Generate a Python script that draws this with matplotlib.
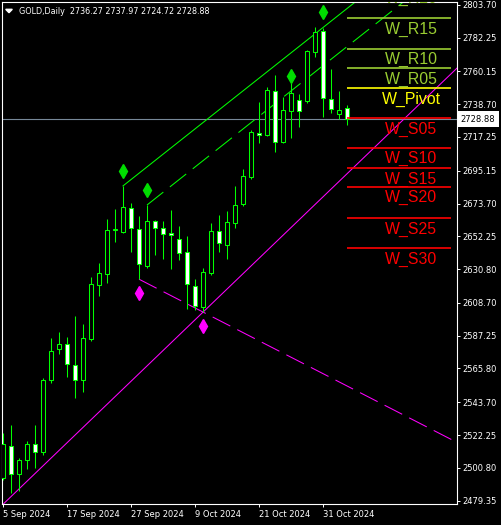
import matplotlib.pyplot as plt
from matplotlib.patches import Polygon
from matplotlib.transforms import blended_transform_factory

# Velas diarias de GOLD, barra 0 = 5 Sep 2024
aperturas = [2494.4, 2515.3, 2496.6, 2505.8, 2516.2, 2511.0, 2558.1, 2578.4, 2581.6, 2567.9,
             2558.1, 2584.9, 2620.2, 2627.4, 2656.6, 2655.3, 2670.6, 2656.9, 2633.0, 2662.3,
             2657.5, 2654.2, 2650.3, 2641.8, 2619.8, 2606.2, 2628.5, 2655.5, 2646.8, 2661.2,
             2673.6, 2691.3, 2719.6, 2718.7, 2747.3, 2714.1, 2734.4, 2741.4, 2741.0, 2773.0,
             2786.7, 2741.9, 2732.1, 2736.27]
maximos = [2523.4, 2528.9, 2507.1, 2518.4, 2528.9, 2559.6, 2585.8, 2589.7, 2586.2, 2600.1,
           2594.9, 2625.5, 2634.6, 2663.4, 2670.1, 2685.2, 2674.0, 2665.6, 2672.7, 2662.9,
           2662.3, 2669.5, 2659.0, 2652.5, 2624.3, 2631.7, 2661.2, 2666.2, 2668.8, 2685.2,
           2696.3, 2721.8, 2740.3, 2750.1, 2757.8, 2743.6, 2752.7, 2745.3, 2774.1, 2789.0,
           2788.5, 2761.7, 2747.3, 2737.97]
minimos = [2492.9, 2484.6, 2485.7, 2499.9, 2500.5, 2509.5, 2556.1, 2575.1, 2560.4, 2546.7,
           2550.6, 2584.0, 2613.4, 2621.9, 2648.7, 2654.2, 2642.2, 2624.3, 2631.7, 2640.0,
           2637.4, 2630.9, 2636.8, 2604.5, 2604.1, 2603.0, 2627.0, 2642.2, 2637.6, 2657.9,
           2672.3, 2690.0, 2713.5, 2717.9, 2707.6, 2713.0, 2716.4, 2724.0, 2739.3, 2769.7,
           2730.5, 2732.7, 2729.0, 2724.72]
cierres = [2516.2, 2496.6, 2505.8, 2516.2, 2511.0, 2558.1, 2577.1, 2581.6, 2568.6, 2558.1,
           2585.6, 2620.9, 2628.1, 2656.4, 2657.2, 2671.2, 2657.5, 2634.0, 2662.3, 2657.5,
           2653.6, 2652.9, 2641.5, 2620.9, 2606.9, 2628.7, 2655.9, 2647.7, 2661.4, 2672.5,
           2691.9, 2720.3, 2718.3, 2747.9, 2714.1, 2734.9, 2745.8, 2734.4, 2773.5, 2786.1,
           2742.5, 2735.3, 2734.7, 2728.88]

fechas_ticks = [0, 8, 16, 24, 32, 40]
fechas_labels = ['5 Sep 2024', '17 Sep 2024', '27 Sep 2024', '9 Oct 2024', '21 Oct 2024', '31 Oct 2024']

precios_ticks = [2479.35, 2500.80, 2522.25, 2543.70, 2565.80, 2587.25, 2608.70, 2630.80,
                 2652.25, 2673.70, 2695.15, 2717.25, 2738.70, 2760.15, 2782.25, 2803.70]

# Niveles semanales (pivot y soportes/resistencias)
niveles_nombres = ['W_R20', 'W_R15', 'W_R10', 'W_R05', 'W_Pivot', 'W_S05',
                   'W_S10', 'W_S15', 'W_S20', 'W_S25', 'W_S30']
niveles_precios = [2814.5, 2794.8, 2774.6, 2762.1, 2749.0, 2729.4,
                   2709.8, 2696.7, 2684.3, 2664.0, 2644.4]
niveles_colores = ['#9ACD32'] * 4 + ['#FFFF00'] + ['#FF0000'] * 6

# Lineas de tendencia: [barra inicial, precio inicial, barra final, precio final]
canal_sup = [15, 2685.2, 57, 2859.2]
canal_med = [18, 2672.7, 57, 2834.3]
linea_subida = [0, 2477.0, 57, 2763.5]
linea_bajada = [17, 2624.2, 57, 2516.8]

# Marcas (rombos)
diam_verdes_x = [15, 18, 36, 40]
diam_verdes_y = [2695.0, 2682.6, 2757.1, 2798.7]
diam_magenta_x = [17, 25]
diam_magenta_y = [2615.0, 2593.6]

ultimo = 2728.88
cabecera = 'GOLD,Daily  2736.27 2737.97 2724.72 2728.88'

W, H = 502, 525
fig = plt.figure(figsize=(W / 100, H / 100), dpi=100, facecolor='black')
ax = fig.add_axes([2 / W, 21 / H, 455 / W, 502 / H], facecolor='black')

verde = '#00FF00'
x = list(range(len(cierres)))

# linea del precio actual
ax.axhline(ultimo, color='#778899', lw=0.8, zorder=1)

# mechas y cuerpos
ax.vlines(x, minimos, maximos, color=verde, lw=0.75, zorder=3)
base = [min(o, c) for o, c in zip(aperturas, cierres)]
alto = [max(abs(c - o), 0.4) for o, c in zip(aperturas, cierres)]
colores = ['black' if c >= o else 'white' for o, c in zip(aperturas, cierres)]
ax.bar(x, alto, width=0.5, bottom=base, color=colores, edgecolor=verde, linewidth=0.75, zorder=4)

# canal verde
ax.plot([canal_sup[0], canal_sup[2]], [canal_sup[1], canal_sup[3]], color=verde, lw=0.75, zorder=2)
ax.plot([canal_med[0], canal_med[2]], [canal_med[1], canal_med[3]], color=verde, lw=0.75,
        ls=(0, (20, 8)), zorder=2)

# lineas magenta
ax.plot([linea_subida[0], linea_subida[2]], [linea_subida[1], linea_subida[3]],
        color='#FF00FF', lw=0.75, zorder=2)
ax.plot([linea_bajada[0], linea_bajada[2]], [linea_bajada[1], linea_bajada[3]],
        color='#FF00FF', lw=0.75, ls=(0, (19, 7.5)), zorder=2)

# rombos
ax.plot(diam_verdes_x, diam_verdes_y, 'd', color='#00DD00', markersize=7.5, ls='none', zorder=6)
ax.plot(diam_magenta_x, diam_magenta_y, 'd', color='#FF00FF', markersize=7.5, ls='none', zorder=6)

# niveles a la derecha
ax.hlines(niveles_precios, 43, 56, colors=niveles_colores, lw=1.2, zorder=5)
for nombre, precio, col in zip(niveles_nombres, niveles_precios, niveles_colores):
    ax.text(51, precio - 2.0, nombre, color=col, fontsize=11.4, family='Liberation Sans',
            ha='center', va='top', zorder=6, clip_on=True)

ax.set_xlim(-0.125, 56.75)
ax.set_ylim(2477.19, 2805.47)

for s in ax.spines.values():
    s.set_color('white')
    s.set_linewidth(0.8)

ax.yaxis.tick_right()
ax.set_yticks(precios_ticks)
ax.set_yticklabels(['%.2f' % p for p in precios_ticks])
ax.set_xticks(fechas_ticks)
ax.set_xticklabels(fechas_labels, ha='left')
ax.tick_params(axis='y', direction='out', length=2, width=0.7, colors='white', labelsize=6, pad=1.8)
ax.tick_params(axis='x', direction='out', length=2, width=0.7, colors='white', labelsize=6, pad=2.3)

# etiqueta del ultimo precio
trans = blended_transform_factory(ax.transAxes, ax.transData)
ax.text(1 + 21 / 455, ultimo, '%.2f' % ultimo, transform=trans, fontsize=6, color='black',
        ha='center', va='center', clip_on=False, zorder=10,
        bbox=dict(boxstyle='square,pad=0.4', fc='white', ec='none'))

# cabecera con triangulo
tri = Polygon([(5.7 / W, 1 - 9.3 / H), (12.3 / W, 1 - 9.3 / H), (9 / W, 1 - 12.7 / H)],
              closed=True, color='white', transform=fig.transFigure)
fig.patches.append(tri)
fig.text(19 / W, 1 - 14.3 / H, cabecera, color='white', fontsize=5.8, va='baseline')

fig.savefig('out.png', dpi=100, facecolor='black')
